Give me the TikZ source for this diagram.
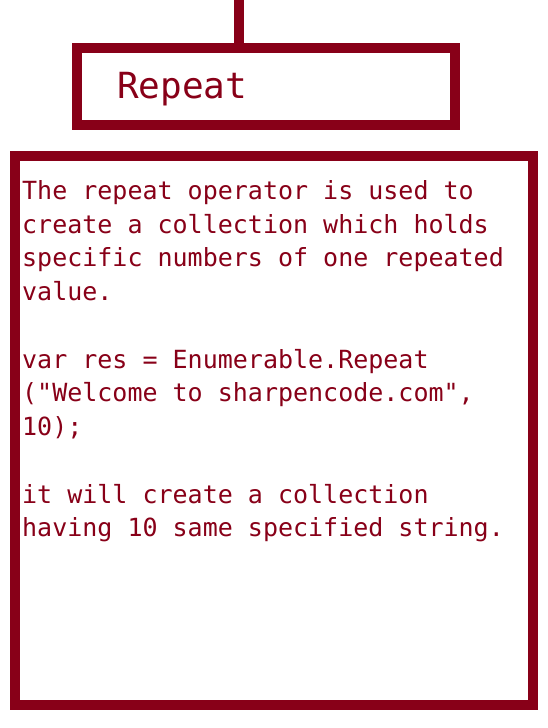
\documentclass[tikz,border=0pt]{standalone}
\usepackage{fontspec}
\newfontfamily\codefont{DejaVu Sans Mono}
\definecolor{wine}{RGB}{136,0,24}
\begin{document}
\begin{tikzpicture}[x=1pt,y=1pt,
  frame/.style={draw=wine, line width=10pt, rectangle, inner sep=0pt, fill=white},
  connector/.style={draw=wine, line width=10pt},
  bodytext/.style={text=wine, font=\codefont\fontsize{25}{30}\selectfont, anchor=base west, inner sep=0pt},
  titletext/.style={text=wine, font=\codefont\fontsize{36}{40}\selectfont, anchor=base west, inner sep=0pt}]
\useasboundingbox (0,0) rectangle (548,-728);
\fill[white] (0,0) rectangle (548,-728);
\coordinate (top) at (238.5,0);
\node[frame, minimum width=378pt, minimum height=77pt] (repeat) at (266,-86.5) {};
\draw[connector] (top) -- (top |- repeat.north);
\node[titletext] (title) at (117,-98.3) {Repeat};
\node[frame, minimum width=517.5pt, minimum height=548.5pt] (body) at (273.75,-430.25) {};
\foreach \k/\t in {0/{The repeat operator is used to},
                   1/{create a collection which holds},
                   2/{specific numbers of one repeated},
                   3/{value.},
                   5/{var res = Enumerable.Repeat},
                   6/{("Welcome to sharpencode.com",},
                   7/{10);},
                   9/{it will create a collection},
                   10/{having 10 same specified string.}}
  \node[bodytext] (line\k) at (22,{-199.3-33.75*\k}) {\t};
\end{tikzpicture}
\end{document}
